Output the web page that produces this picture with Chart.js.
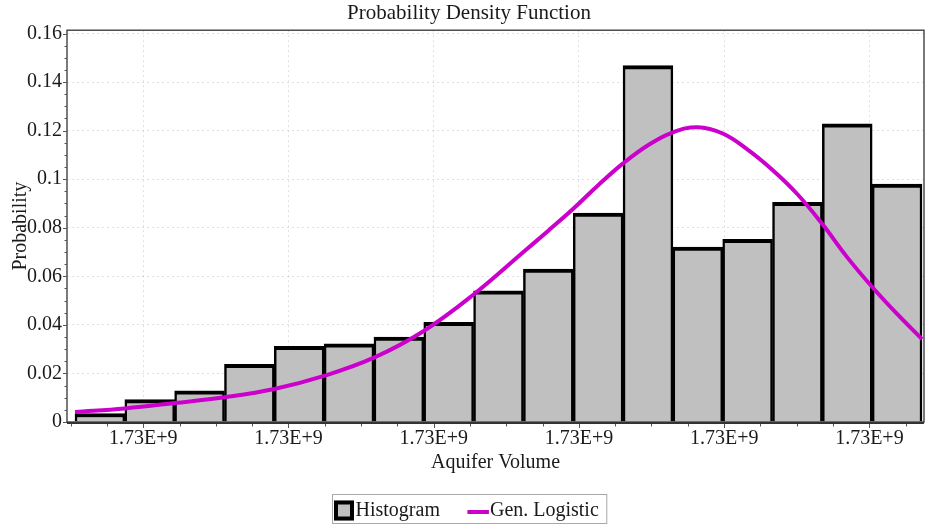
<!DOCTYPE html>
<html>
<head>
<meta charset="utf-8">
<title>Probability Density Function</title>
<script src="https://cdn.jsdelivr.net/npm/chart.js@4.4.1/dist/chart.umd.min.js"></script>
<style>
  html, body { margin: 0; padding: 0; background: #fff; }
  #wrap { width: 928px; height: 524px; }
</style>
</head>
<body>
<div id="wrap"><canvas id="pdfChart" width="928" height="524"></canvas></div>
<script>
'use strict';
// histogram heights, bar i covers bin i..i+1
var binHeights = [0.0035, 0.0092, 0.0128, 0.0238, 0.0312, 0.0322, 0.0350, 0.0410, 0.0540, 0.0630,
                  0.0860, 0.1468, 0.0720, 0.0752, 0.0905, 0.1228, 0.0980];
// fitted Gen. Logistic curve (x in bin units)
var curveX = [0, 1, 2, 3, 4, 5, 6, 7, 8, 9, 9.5, 10, 10.5, 11, 11.5, 12, 12.5, 13, 13.5, 14, 14.5, 15, 15.5, 16, 16.5, 17];
var curveY = [0.0041, 0.0056, 0.0078, 0.0102, 0.0136, 0.0190, 0.0265, 0.0375, 0.0525, 0.0700, 0.0788, 0.0878,
              0.0975, 0.1065, 0.1140, 0.1193, 0.1214, 0.1188, 0.1122, 0.1038, 0.0938, 0.0815, 0.0678, 0.0556,
              0.0445, 0.0341];
var xTickPositions = [1.371, 4.285, 7.200, 10.115, 13.030, 15.944];
var xTickLabels = ['1.73E+9', '1.73E+9', '1.73E+9', '1.73E+9', '1.73E+9', '1.73E+9'];
var yTickValues = [0, 0.02, 0.04, 0.06, 0.08, 0.1, 0.12, 0.14, 0.16];
var yTickLabels = ['0', '0.02', '0.04', '0.06', '0.08', '0.1', '0.12', '0.14', '0.16'];

var serif = '"Liberation Serif", "Times New Roman", serif';
var textColor = '#1a1a1a';
var barGray = '#c0c0c0';
var magenta = '#cc00cc';

Chart.defaults.font.family = serif;
Chart.defaults.font.size = 20;
Chart.defaults.color = textColor;

// frame, minor ticks
var frameTicks = {
    id: 'frameTicks',
    afterDatasetsDraw: function (chart) {
        var ctx = chart.ctx, a = chart.chartArea;
        var xs = chart.scales.x, ys = chart.scales.y;
        ctx.save();
        ctx.strokeStyle = '#333';
        ctx.lineWidth = 1.3;
        ctx.strokeRect(a.left, a.top, a.right - a.left, a.bottom - a.top);
        ctx.lineWidth = 2;
        ctx.beginPath();
        ctx.moveTo(a.left, a.bottom + 1);
        ctx.lineTo(a.right, a.bottom + 1);
        ctx.stroke();

        ctx.lineWidth = 1;
        ctx.strokeStyle = '#555';
        ctx.beginPath();
        // y ticks every 0.005, majors every 0.02
        for (var k = 0; k <= 32; k++) {
            var py = Math.round(ys.getPixelForValue(k * 0.005)) + 0.5;
            var len = (k % 4 === 0) ? 4 : 2.5;
            ctx.moveTo(a.left - len, py);
            ctx.lineTo(a.left, py);
        }
        // x ticks, 3 minors per major interval
        var step = (xTickPositions[1] - xTickPositions[0]) / 4;
        var start = xTickPositions[0];
        while (start - step >= xs.min) start -= step;
        for (var j = 0, v = start; v <= xs.max; j++, v = start + j * step) {
            var px = Math.round(xs.getPixelForValue(v)) + 0.5;
            var isMajor = xTickPositions.some(function (t) { return Math.abs(t - v) < 0.01; });
            ctx.moveTo(px, a.bottom + 2);
            ctx.lineTo(px, a.bottom + (isMajor ? 6 : 4.5));
        }
        ctx.stroke();
        ctx.restore();
    }
};

// boxed legend under the x axis
var boxedLegend = {
    id: 'boxedLegend',
    afterDraw: function (chart) {
        var ctx = chart.ctx;
        var ds = chart.data.datasets;
        ctx.save();
        ctx.font = '20px ' + serif;
        var w1 = ctx.measureText(ds[0].label).width;
        var w2 = ctx.measureText(ds[1].label).width;
        var total = 1.5 + 20 + 1.5 + w1 + 27.5 + 21.5 + 1 + w2 + 8;
        var left = Math.round(469.5 - total / 2) + 0.5;
        var top = chart.height - 29.5;
        ctx.strokeStyle = '#a8a8a8';
        ctx.lineWidth = 1;
        ctx.strokeRect(left, top, total, 29);

        var x = left + 1.5;
        ctx.fillStyle = ds[0].backgroundColor;
        ctx.fillRect(x, top + 6, 20, 20);
        ctx.strokeStyle = '#000';
        ctx.lineWidth = 4;
        ctx.strokeRect(x + 2, top + 8, 16, 16);
        x += 21.5;
        ctx.fillStyle = textColor;
        ctx.textBaseline = 'middle';
        ctx.textAlign = 'left';
        ctx.fillText(ds[0].label, x, top + 16);
        x += w1 + 27.5;
        ctx.strokeStyle = ds[1].borderColor;
        ctx.lineWidth = 4;
        ctx.beginPath();
        ctx.moveTo(x, top + 17.5);
        ctx.lineTo(x + 21.5, top + 17.5);
        ctx.stroke();
        x += 22.5;
        ctx.fillText(ds[1].label, x, top + 16);
        ctx.restore();
    }
};

var ctx = document.getElementById('pdfChart');
var pdfChart = new Chart(ctx, {
    type: 'bar',
    data: {
        datasets: [{
            type: 'bar',
            label: 'Histogram',
            data: binHeights.map(function (h, i) { return { x: i + 0.5, y: h }; }),
            backgroundColor: barGray,
            borderColor: '#000',
            borderWidth: { top: 4, left: 2.5, right: 2.5, bottom: 0 },
            borderSkipped: 'start',
            barPercentage: 1,
            categoryPercentage: 1,
            order: 1
        }, {
            type: 'line',
            label: 'Gen. Logistic',
            data: curveX.map(function (x, i) { return { x: x, y: curveY[i] }; }),
            borderColor: magenta,
            borderWidth: 4,
            pointRadius: 0,
            fill: false,
            tension: 0.4,
            order: 0
        }]
    },
    options: {
        responsive: false,
        animation: false,
        devicePixelRatio: 1,
        layout: { padding: { left: 14, right: 4, top: 0, bottom: 32 } },
        plugins: {
            legend: { display: false },
            tooltip: { enabled: false },
            title: {
                display: true,
                text: 'Probability Density Function',
                color: textColor,
                font: { size: 21, weight: 'normal' },
                padding: { top: 1, bottom: 4 }
            }
        },
        scales: {
            x: {
                type: 'linear',
                offset: false,
                min: -0.1606,
                max: 17.04,
                afterBuildTicks: function (scale) {
                    scale.ticks = xTickPositions.map(function (v) { return { value: v }; });
                },
                afterFit: function (scale) { scale.height = 70; },
                ticks: {
                    autoSkip: false,
                    maxRotation: 0,
                    padding: 5,
                    color: textColor,
                    callback: function (value, index) { return xTickLabels[index]; }
                },
                grid: { offset: false, drawTicks: false, color: 'rgba(0,0,0,0.12)', lineWidth: 1 },
                border: { display: false, dash: [2, 3] },
                title: {
                    display: true,
                    text: 'Aquifer Volume',
                    color: textColor,
                    padding: { top: 0, bottom: 17 }
                }
            },
            y: {
                min: 0,
                max: 0.16136,
                afterBuildTicks: function (scale) {
                    scale.ticks = yTickValues.map(function (v) { return { value: v }; });
                },
                afterFit: function (scale) { scale.width = 53; },
                ticks: {
                    padding: 5,
                    color: textColor,
                    callback: function (value, index) { return yTickLabels[index]; }
                },
                grid: { drawTicks: false, color: 'rgba(0,0,0,0.12)', lineWidth: 1 },
                border: { display: false, dash: [2, 3] },
                title: {
                    display: true,
                    text: 'Probability',
                    color: textColor,
                    padding: { top: -5, bottom: 0 }
                }
            }
        }
    },
    plugins: [frameTicks, boxedLegend]
});
</script>
</body>
</html>
